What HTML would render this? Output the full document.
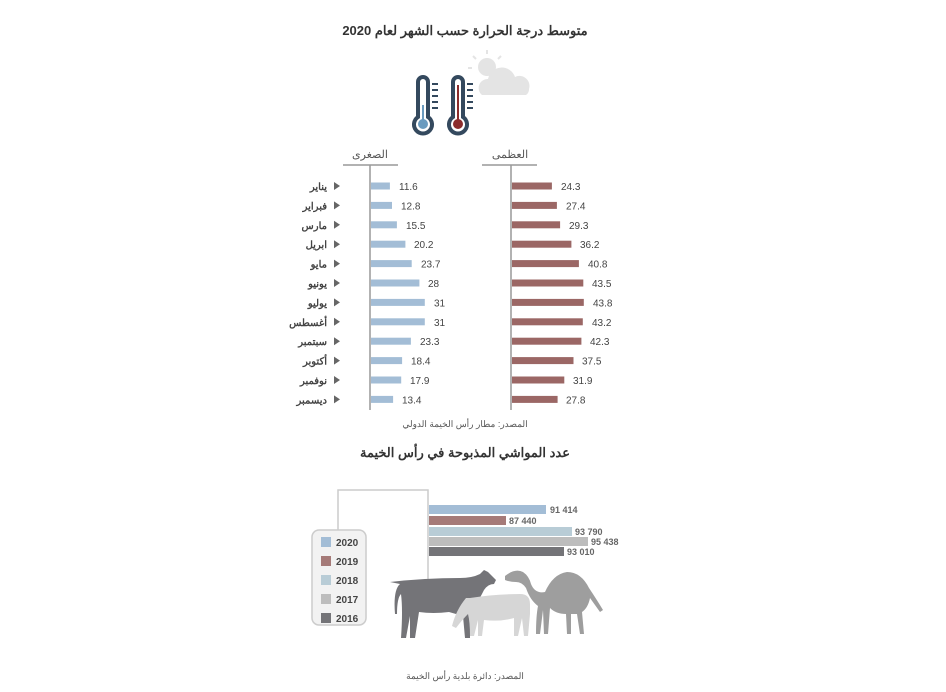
<!DOCTYPE html>
<html><head><meta charset="utf-8"><style>
body{margin:0;background:#fff;}
svg text{font-family:"Liberation Sans","Noto Sans CJK SC",sans-serif;}
</style></head><body>
<svg width="946" height="687" xmlns="http://www.w3.org/2000/svg">
<text x="465" y="35" text-anchor="middle" font-size="13" font-weight="bold" fill="#333">متوسط درجة الحرارة حسب الشهر لعام 2020</text>
<g fill="none" stroke="#34495e" stroke-width="4">
<path d="M418 117 V82 a5 5 0 0 1 10 0 V117 a9 9 0 1 1 -10 0z"/>
<path d="M453 117 V82 a5 5 0 0 1 10 0 V117 a9 9 0 1 1 -10 0z"/>
</g>
<circle cx="423" cy="124" r="5" fill="#6a9bbf"/><rect x="422" y="105" width="2" height="18" fill="#6a9bbf"/>
<circle cx="458" cy="124" r="5" fill="#8b2c2c"/><rect x="457" y="85" width="2" height="38" fill="#8b2c2c"/>
<g stroke="#34495e" stroke-width="2">
<line x1="432" y1="84" x2="438" y2="84"/><line x1="432" y1="90" x2="438" y2="90"/><line x1="432" y1="96" x2="438" y2="96"/><line x1="432" y1="102" x2="438" y2="102"/><line x1="432" y1="108" x2="438" y2="108"/>
<line x1="467" y1="84" x2="473" y2="84"/><line x1="467" y1="90" x2="473" y2="90"/><line x1="467" y1="96" x2="473" y2="96"/><line x1="467" y1="102" x2="473" y2="102"/><line x1="467" y1="108" x2="473" y2="108"/>
</g>
<circle cx="487" cy="67" r="9" fill="#e4e4e4"/>
<g stroke="#e4e4e4" stroke-width="2"><line x1="487" y1="50" x2="487" y2="54"/><line x1="473" y1="56" x2="476" y2="59"/><line x1="501" y1="56" x2="498" y2="59"/><line x1="468" y1="68" x2="472" y2="68"/></g>
<path d="M482 95 a9 9 0 0 1 6-16 a14 14 0 0 1 27-2 a10 10 0 0 1 14 12 a7 7 0 0 1 -3 6z" fill="#e4e4e4"/>
<text x="370" y="158" text-anchor="middle" font-size="11" fill="#555">الصغرى</text>
<text x="510" y="158" text-anchor="middle" font-size="11" fill="#555">العظمى</text>
<line x1="343" y1="165" x2="398" y2="165" stroke="#999" stroke-width="1.5"/>
<line x1="482" y1="165" x2="537" y2="165" stroke="#999" stroke-width="1.5"/>
<line x1="370" y1="165" x2="370" y2="410" stroke="#999" stroke-width="1.5"/>
<line x1="511" y1="165" x2="511" y2="410" stroke="#999" stroke-width="1.5"/>
<g font-size="10" fill="#444">
<g font-weight="bold" text-anchor="end">
<text x="327" y="190">يناير</text><text x="327" y="209.4">فبراير</text><text x="327" y="228.8">مارس</text><text x="327" y="248.2">ابريل</text><text x="327" y="267.6">مايو</text><text x="327" y="287">يونيو</text><text x="327" y="306.4">يوليو</text><text x="327" y="325.8">أغسطس</text><text x="327" y="345.2">سبتمبر</text><text x="327" y="364.6">أكتوبر</text><text x="327" y="384">نوفمبر</text><text x="327" y="403.4">ديسمبر</text>
</g>
<g fill="#666">
<path d="M334 182 l6 4 -6 4z"/><path d="M334 201.4 l6 4 -6 4z"/><path d="M334 220.8 l6 4 -6 4z"/><path d="M334 240.2 l6 4 -6 4z"/><path d="M334 259.6 l6 4 -6 4z"/><path d="M334 279 l6 4 -6 4z"/><path d="M334 298.4 l6 4 -6 4z"/><path d="M334 317.8 l6 4 -6 4z"/><path d="M334 337.2 l6 4 -6 4z"/><path d="M334 356.6 l6 4 -6 4z"/><path d="M334 376 l6 4 -6 4z"/><path d="M334 395.4 l6 4 -6 4z"/>
</g>
<g fill="#a3bdd6">
<rect x="371" y="182.5" width="18.9" height="7"/><rect x="371" y="201.9" width="21" height="7"/><rect x="371" y="221.3" width="25.9" height="7"/><rect x="371" y="240.7" width="34.4" height="7"/><rect x="371" y="260.1" width="40.7" height="7"/><rect x="371" y="279.5" width="48.4" height="7"/><rect x="371" y="298.9" width="53.8" height="7"/><rect x="371" y="318.3" width="53.8" height="7"/><rect x="371" y="337.7" width="39.9" height="7"/><rect x="371" y="357.1" width="31.1" height="7"/><rect x="371" y="376.5" width="30.2" height="7"/><rect x="371" y="395.9" width="22.1" height="7"/>
</g>
<text x="399" y="190">11.6</text><text x="401" y="209.4">12.8</text><text x="406" y="228.8">15.5</text><text x="414" y="248.2">20.2</text><text x="421" y="267.6">23.7</text><text x="428" y="287">28</text><text x="434" y="306.4">31</text><text x="434" y="325.8">31</text><text x="420" y="345.2">23.3</text><text x="411" y="364.6">18.4</text><text x="410" y="384">17.9</text><text x="402" y="403.4">13.4</text>
<g fill="#9b6765">
<rect x="512" y="182.5" width="39.9" height="7"/><rect x="512" y="201.9" width="44.9" height="7"/><rect x="512" y="221.3" width="48.1" height="7"/><rect x="512" y="240.7" width="59.4" height="7"/><rect x="512" y="260.1" width="66.9" height="7"/><rect x="512" y="279.5" width="71.3" height="7"/><rect x="512" y="298.9" width="71.8" height="7"/><rect x="512" y="318.3" width="70.8" height="7"/><rect x="512" y="337.7" width="69.4" height="7"/><rect x="512" y="357.1" width="61.5" height="7"/><rect x="512" y="376.5" width="52.3" height="7"/><rect x="512" y="395.9" width="45.6" height="7"/>
</g>
<text x="561" y="190">24.3</text><text x="566" y="209.4">27.4</text><text x="569" y="228.8">29.3</text><text x="580" y="248.2">36.2</text><text x="588" y="267.6">40.8</text><text x="592" y="287">43.5</text><text x="593" y="306.4">43.8</text><text x="592" y="325.8">43.2</text><text x="590" y="345.2">42.3</text><text x="582" y="364.6">37.5</text><text x="573" y="384">31.9</text><text x="566" y="403.4">27.8</text>
</g>
<text x="465" y="427" text-anchor="middle" font-size="9" fill="#555">المصدر: مطار رأس الخيمة الدولي</text>
<text x="465" y="457" text-anchor="middle" font-size="13" font-weight="bold" fill="#333">عدد المواشي المذبوحة في رأس الخيمة</text>
<path d="M338 530 V490 H428 V580" fill="none" stroke="#ccc" stroke-width="1.5"/>
<rect x="429" y="505" width="117" height="9" fill="#a3bdd6"/><text x="550" y="513" font-size="9" font-weight="bold" fill="#666">91  414</text>
<rect x="429" y="516" width="77" height="9" fill="#a57a78"/><text x="509" y="524" font-size="9" font-weight="bold" fill="#666">87  440</text>
<rect x="429" y="527" width="143" height="9" fill="#b8ccd6"/><text x="575" y="535" font-size="9" font-weight="bold" fill="#666">93  790</text>
<rect x="429" y="537" width="159" height="9" fill="#bdbdbd"/><text x="591" y="545" font-size="9" font-weight="bold" fill="#666">95  438</text>
<rect x="429" y="547" width="135" height="9" fill="#747478"/><text x="567" y="555" font-size="9" font-weight="bold" fill="#666">93  010</text>
<rect x="312" y="530" width="54" height="95" rx="7" fill="#f2f2f2" stroke="#ccc" stroke-width="1.5"/>
<g font-size="10" font-weight="bold" fill="#444">
<rect x="321" y="537" width="10" height="10" fill="#a3bdd6"/><text x="336" y="546">2020</text>
<rect x="321" y="556" width="10" height="10" fill="#a57a78"/><text x="336" y="565">2019</text>
<rect x="321" y="575" width="10" height="10" fill="#b8ccd6"/><text x="336" y="584">2018</text>
<rect x="321" y="594" width="10" height="10" fill="#bdbdbd"/><text x="336" y="603">2017</text>
<rect x="321" y="613" width="10" height="10" fill="#747478"/><text x="336" y="622">2016</text>
</g>
<!-- camel -->
<path d="M505 576 q10-8 18-4 q6 4 8 12 q4 10 14 8 q8-18 22-20 q14 0 22 16 q8 12 14 22 l-3 2 -10-14 q-2 10 -8 14 l2 22 -4 0 -3-20 -6 0 l0 20 -4 0 -1-20 q-10 0 -16-6 l-2 26 -4 0 -1-24 -3 24 -4 0 q0-18 2-28 q-8-6 -12-18 q-4-6 -10-6 q-6 0 -11-2z" fill="#9e9e9e"/>
<!-- cow -->
<path d="M390 582 q35-4 70-4 q12 0 20-4 l4-4 4 2 8 8 -2 4 q-6 0 -10 6 q-8 16 -14 22 l0 26 -5 0 -2-22 -14-4 q-16 2 -30 0 l-4 26 -5 0 0-22 -4 22 -5 0 q2-28 0-44 q-4 4 -4 20 l-2 0 q-2-24 5-30z" fill="#747478"/>
<!-- goat -->
<path d="M470 598 q25-4 50-4 q10 0 10 10 l0 10 -2 22 -4 0 -2-18 -4 18 -4 0 0-18 q-14 4 -30 2 l-2 16 -4 0 0-16 -4 16 -4 0 q0-14 -2-22 q-6 6 -12 14 l-4-2 q4-16 14-28z" fill="#d6d6d6"/>
<text x="465" y="679" text-anchor="middle" font-size="9" fill="#555">المصدر: دائرة بلدية رأس الخيمة</text>
</svg>
</body></html>
